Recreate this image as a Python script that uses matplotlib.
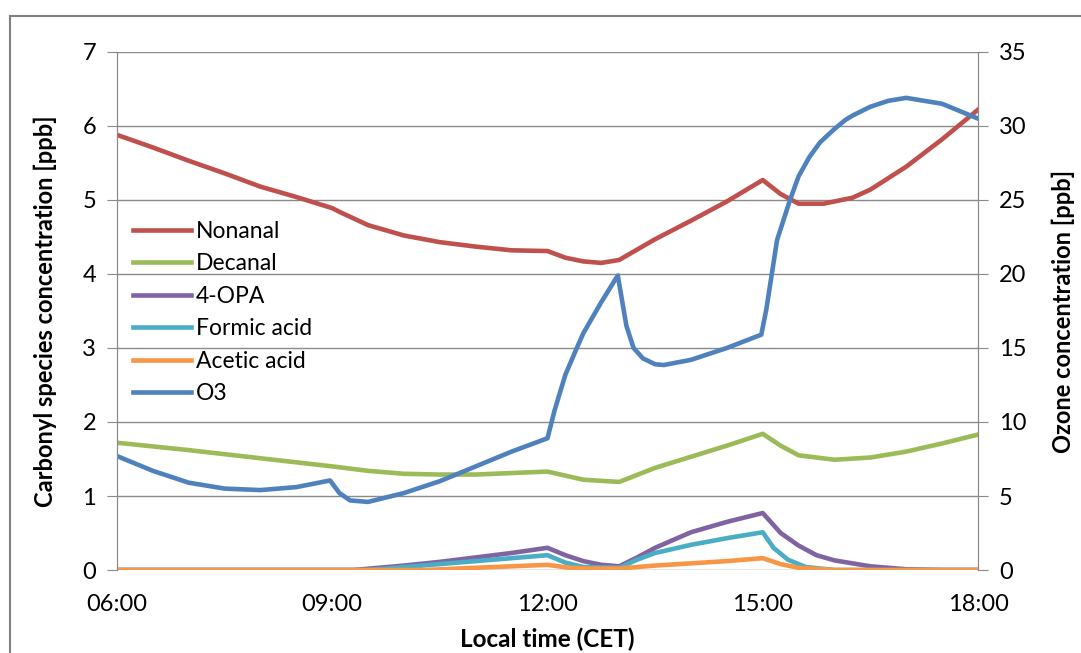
import numpy as np
import matplotlib.pyplot as plt
from matplotlib.patches import Rectangle

plt.rcParams['font.family'] = ['Lato', 'DejaVu Sans']

# hours (local time), values in ppb
t_nonanal = [6, 6.5, 7, 7.5, 8, 8.5, 9, 9.1, 9.5, 10, 10.5, 11, 11.5, 12, 12.25, 12.5, 12.75, 13,
             13.5, 14, 14.5, 15, 15.25, 15.5, 15.85, 16.25, 16.5, 17, 17.5, 18]
nonanal = [5.88, 5.71, 5.53, 5.36, 5.18, 5.04, 4.89, 4.84, 4.66, 4.52, 4.43, 4.37, 4.32, 4.31, 4.22,
           4.17, 4.15, 4.19, 4.47, 4.72, 4.98, 5.27, 5.08, 4.95, 4.95, 5.03, 5.14, 5.45, 5.82, 6.22]

t_decanal = [6, 7, 8, 9, 9.5, 10, 10.5, 11, 11.5, 12, 12.5, 13, 13.5, 14, 14.5, 15, 15.25, 15.5,
             16, 16.5, 17, 17.5, 18]
decanal = [1.72, 1.62, 1.51, 1.40, 1.34, 1.30, 1.29, 1.29, 1.31, 1.33, 1.22, 1.19, 1.38, 1.53,
           1.68, 1.84, 1.68, 1.55, 1.49, 1.52, 1.60, 1.71, 1.83]

t_opa = [6, 9.3, 10, 10.5, 11, 11.5, 12, 12.25, 12.5, 12.75, 13, 13.25, 13.5, 14, 14.5, 15, 15.25,
         15.5, 15.75, 16, 16.5, 17, 17.5, 18]
opa = [0, 0, 0.06, 0.11, 0.17, 0.23, 0.30, 0.20, 0.12, 0.07, 0.05, 0.17, 0.30, 0.51, 0.65, 0.77,
       0.50, 0.33, 0.20, 0.13, 0.05, 0.01, 0, 0]

t_formic = [6, 9.5, 10, 10.5, 11, 11.5, 12, 12.25, 12.5, 13, 13.25, 13.5, 14, 14.5, 15, 15.15,
            15.35, 15.6, 16, 18]
formic = [0, 0, 0.04, 0.08, 0.12, 0.16, 0.20, 0.10, 0.04, 0.03, 0.14, 0.23, 0.34, 0.43, 0.51, 0.30,
          0.14, 0.04, 0, 0]

t_acetic = [6, 10.3, 11, 11.5, 12, 12.3, 12.6, 13, 13.5, 14, 14.5, 15, 15.25, 15.5, 16, 18]
acetic = [0, 0, 0.03, 0.05, 0.07, 0.03, 0.02, 0.02, 0.06, 0.09, 0.12, 0.16, 0.08, 0.03, 0, 0]

t_o3 = [6, 6.5, 7, 7.5, 8, 8.5, 8.97, 9.1, 9.25, 9.5, 10, 10.5, 11, 11.5, 12, 12.1, 12.25, 12.4,
        12.5, 12.75, 12.98, 13.1, 13.2, 13.33, 13.5, 13.62, 14, 14.5, 14.98, 15.05, 15.2, 15.38,
        15.5, 15.65, 15.8, 16, 16.15, 16.25, 16.5, 16.75, 17, 17.5, 18]
o3 = [7.7, 6.7, 5.9, 5.5, 5.4, 5.6, 6.05, 5.2, 4.7, 4.6, 5.2, 6.0, 7.0, 8.0, 8.9, 10.8, 13.2, 14.9,
      16.0, 18.1, 19.9, 16.5, 15.0, 14.3, 13.9, 13.85, 14.2, 15.0, 15.9, 17.6, 22.3, 25.0, 26.6,
      27.9, 28.9, 29.8, 30.4, 30.7, 31.3, 31.7, 31.9, 31.5, 30.5]

xticks = [6, 9, 12, 15, 18]
xlabels = ['06:00', '09:00', '12:00', '15:00', '18:00']

grey = '#8a8a8a'
lw = 3.3

fig = plt.figure(figsize=(10.81, 6.53), dpi=100)
ax = fig.add_axes([0.1082, 0.1271, 0.7965, 0.7933])
ax2 = ax.twinx()

l1, = ax.plot(t_nonanal, nonanal, color='#C0504D', lw=lw, label='Nonanal')
l2, = ax.plot(t_decanal, decanal, color='#9BBB59', lw=lw, label='Decanal')
l3, = ax.plot(t_opa, opa, color='#8064A2', lw=lw, label='4-OPA')
l4, = ax.plot(t_formic, formic, color='#4BACC6', lw=lw, label='Formic acid')
l5, = ax.plot(t_acetic, acetic, color='#F79646', lw=lw, label='Acetic acid')
l6, = ax2.plot(t_o3, o3, color='#4F81BD', lw=lw, label='O3')

ax.set_xlim(6, 18)
ax.set_ylim(0, 7)
ax2.set_ylim(0, 35)
ax.set_yticks(range(0, 8))
ax2.set_yticks(range(0, 36, 5))
ax.set_xticks(xticks)
ax.set_xticklabels(xlabels)

ax.grid(axis='y', color=grey, lw=1)
ax.set_axisbelow(True)
for a in (ax, ax2):
    for s in a.spines.values():
        s.set_color(grey)
    a.spines['top'].set_visible(False)
    a.spines['bottom'].set_visible(False)
ax.tick_params(axis='y', length=7, color=grey, labelsize=17, pad=8)
ax2.tick_params(axis='y', length=7, color=grey, labelsize=17, pad=8)
ax.tick_params(axis='x', length=0, labelsize=17, pad=17)

ax.set_ylabel('Carbonyl species concentration [ppb]', fontsize=17, fontweight='bold', labelpad=18)
ax2.set_ylabel('Ozone concentration [ppb]', fontsize=17, fontweight='bold', labelpad=18)
ax.set_xlabel('Local time (CET)', fontsize=17.5, fontweight='bold', labelpad=9)

ax2.legend(handles=[l1, l2, l3, l4, l5, l6], loc='upper left', bbox_to_anchor=(-0.005, 0.714),
           frameon=False, fontsize=16.5, handlelength=2.5, handletextpad=0.22, labelspacing=0.5)

fig.patches.append(Rectangle((10 / 1081, -0.1), 1.2, 1.1 - 16 / 653, transform=fig.transFigure,
                             fill=False, edgecolor='#808080', lw=1.5))

fig.savefig('out.png', dpi=100)
